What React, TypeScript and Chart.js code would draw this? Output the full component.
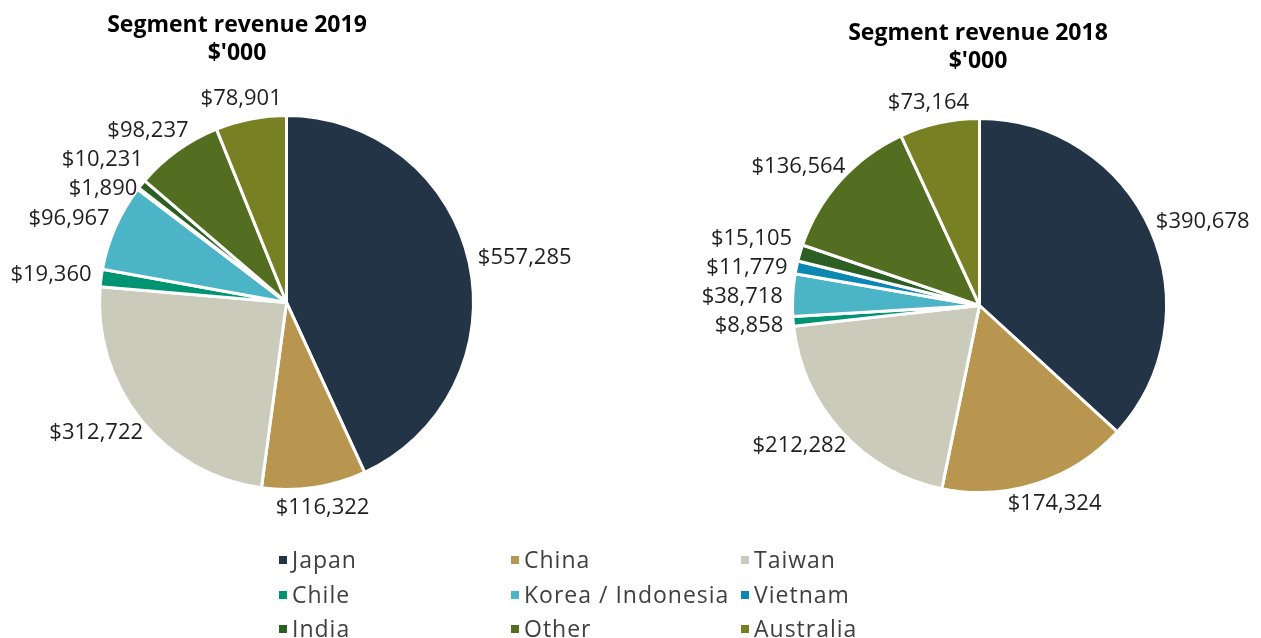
import React, { useEffect, useRef } from "react";
import { Chart, registerables } from "chart.js";
Chart.register(...registerables);

const categories = ["Japan", "China", "Taiwan", "Chile", "Korea / Indonesia", "Vietnam", "India", "Other", "Australia"];
const revenue2019 = [557285, 116322, 312722, 19360, 96967, 1890, 10231, 98237, 78901];
const revenue2018 = [390678, 174324, 212282, 8858, 38718, 11779, 15105, 136564, 73164];
const sliceColors = ["#243447", "#b9964f", "#cbcbbb", "#009473", "#4bb5c7", "#0a87b3", "#2d5e24", "#546e21", "#778022"];
const title2019 = ["Segment revenue 2019", "$'000"];
const title2018 = ["Segment revenue 2018", "$'000"];

const FONT = "'Open Sans', 'DejaVu Sans', sans-serif";
const W = 1261;
const H = 638;

function makePlugin(titleLines: string[], titleX: number, titleY: number, drawLegend: boolean) {
  return {
    id: "outLabels",
    afterDraw(chart: any) {
      const ctx = chart.ctx as CanvasRenderingContext2D;
      const meta = chart.getDatasetMeta(0);
      const data = chart.data.datasets[0].data as number[];
      ctx.save();
      ctx.font = `22px ${FONT}`;
      const items: any[] = [];
      meta.data.forEach((arc: any, i: number) => {
        const p = arc.getProps(["x", "y", "startAngle", "endAngle", "outerRadius"], true);
        const mid = (p.startAngle + p.endAngle) / 2;
        const c = Math.cos(mid);
        const s = Math.sin(mid);
        const text = "$" + data[i].toLocaleString("en-US");
        const w = ctx.measureText(text).width;
        const h = 22;
        const r = p.outerRadius + 10;
        items.push({ text, x: p.x + c * r + (c * w) / 2, y: p.y + s * r + (s * h) / 2, left: c < 0 });
      });
      const MIN = 29;
      [true, false].forEach((side) => {
        const arr = items.filter((it) => it.left === side).sort((a, b) => a.y - b.y);
        for (let iter = 0; iter < 200; iter++) {
          let moved = false;
          for (let k = 1; k < arr.length; k++) {
            const gap = arr[k].y - arr[k - 1].y;
            if (gap < MIN - 0.01) {
              const d = (MIN - gap) / 2;
              arr[k].y += d;
              arr[k - 1].y -= d;
              moved = true;
            }
          }
          if (!moved) break;
        }
      });
      ctx.fillStyle = "#1f1f1f";
      ctx.textAlign = "center";
      ctx.textBaseline = "middle";
      items.forEach((it) => ctx.fillText(it.text, it.x, it.y));

      // title
      ctx.font = `bold 23px ${FONT}`;
      ctx.fillStyle = "#000000";
      titleLines.forEach((t, i) => ctx.fillText(t, titleX, titleY + i * 28));

      if (drawLegend) {
        const colX = [279, 511, 741];
        const rowY = [560, 595, 629];
        ctx.font = `23px ${FONT}`;
        (ctx as any).letterSpacing = "1px";
        ctx.textAlign = "left";
        categories.forEach((cat, i) => {
          const x = colX[i % 3];
          const y = rowY[Math.floor(i / 3)];
          ctx.fillStyle = sliceColors[i];
          ctx.fillRect(x, y - 4, 8, 8);
          ctx.fillStyle = "#404040";
          ctx.fillText(cat, x + 13, y + 1);
        });
      }
      ctx.restore();
    },
  };
}

function PieChart(props: { values: number[]; padding: any; plugin: any }) {
  const ref = useRef<HTMLCanvasElement>(null);
  useEffect(() => {
    const chart = new Chart(ref.current as HTMLCanvasElement, {
      type: "pie",
      data: {
        labels: categories,
        datasets: [
          {
            data: props.values,
            backgroundColor: sliceColors,
            borderColor: "#ffffff",
            borderWidth: 3,
          },
        ],
      },
      options: {
        responsive: false,
        animation: false,
        layout: { padding: props.padding },
        plugins: { legend: { display: false }, tooltip: { enabled: false }, title: { display: false } },
      },
      plugins: [props.plugin],
    });
    return () => chart.destroy();
  }, []);
  return (
    <canvas
      ref={ref}
      width={W}
      height={H}
      style={{ position: "absolute", left: 0, top: 0, width: W, height: H }}
    />
  );
}

export default function App() {
  return (
    <div style={{ position: "fixed", left: 0, top: 0, width: W, height: H, background: "#ffffff" }}>
      <PieChart
        values={revenue2019}
        padding={{ left: 98, right: 786, top: 114, bottom: 147 }}
        plugin={makePlugin(title2019, 237, 25, true)}
      />
      <PieChart
        values={revenue2018}
        padding={{ left: 791, right: 93, top: 117, bottom: 144 }}
        plugin={makePlugin(title2018, 978, 33, false)}
      />
    </div>
  );
}
